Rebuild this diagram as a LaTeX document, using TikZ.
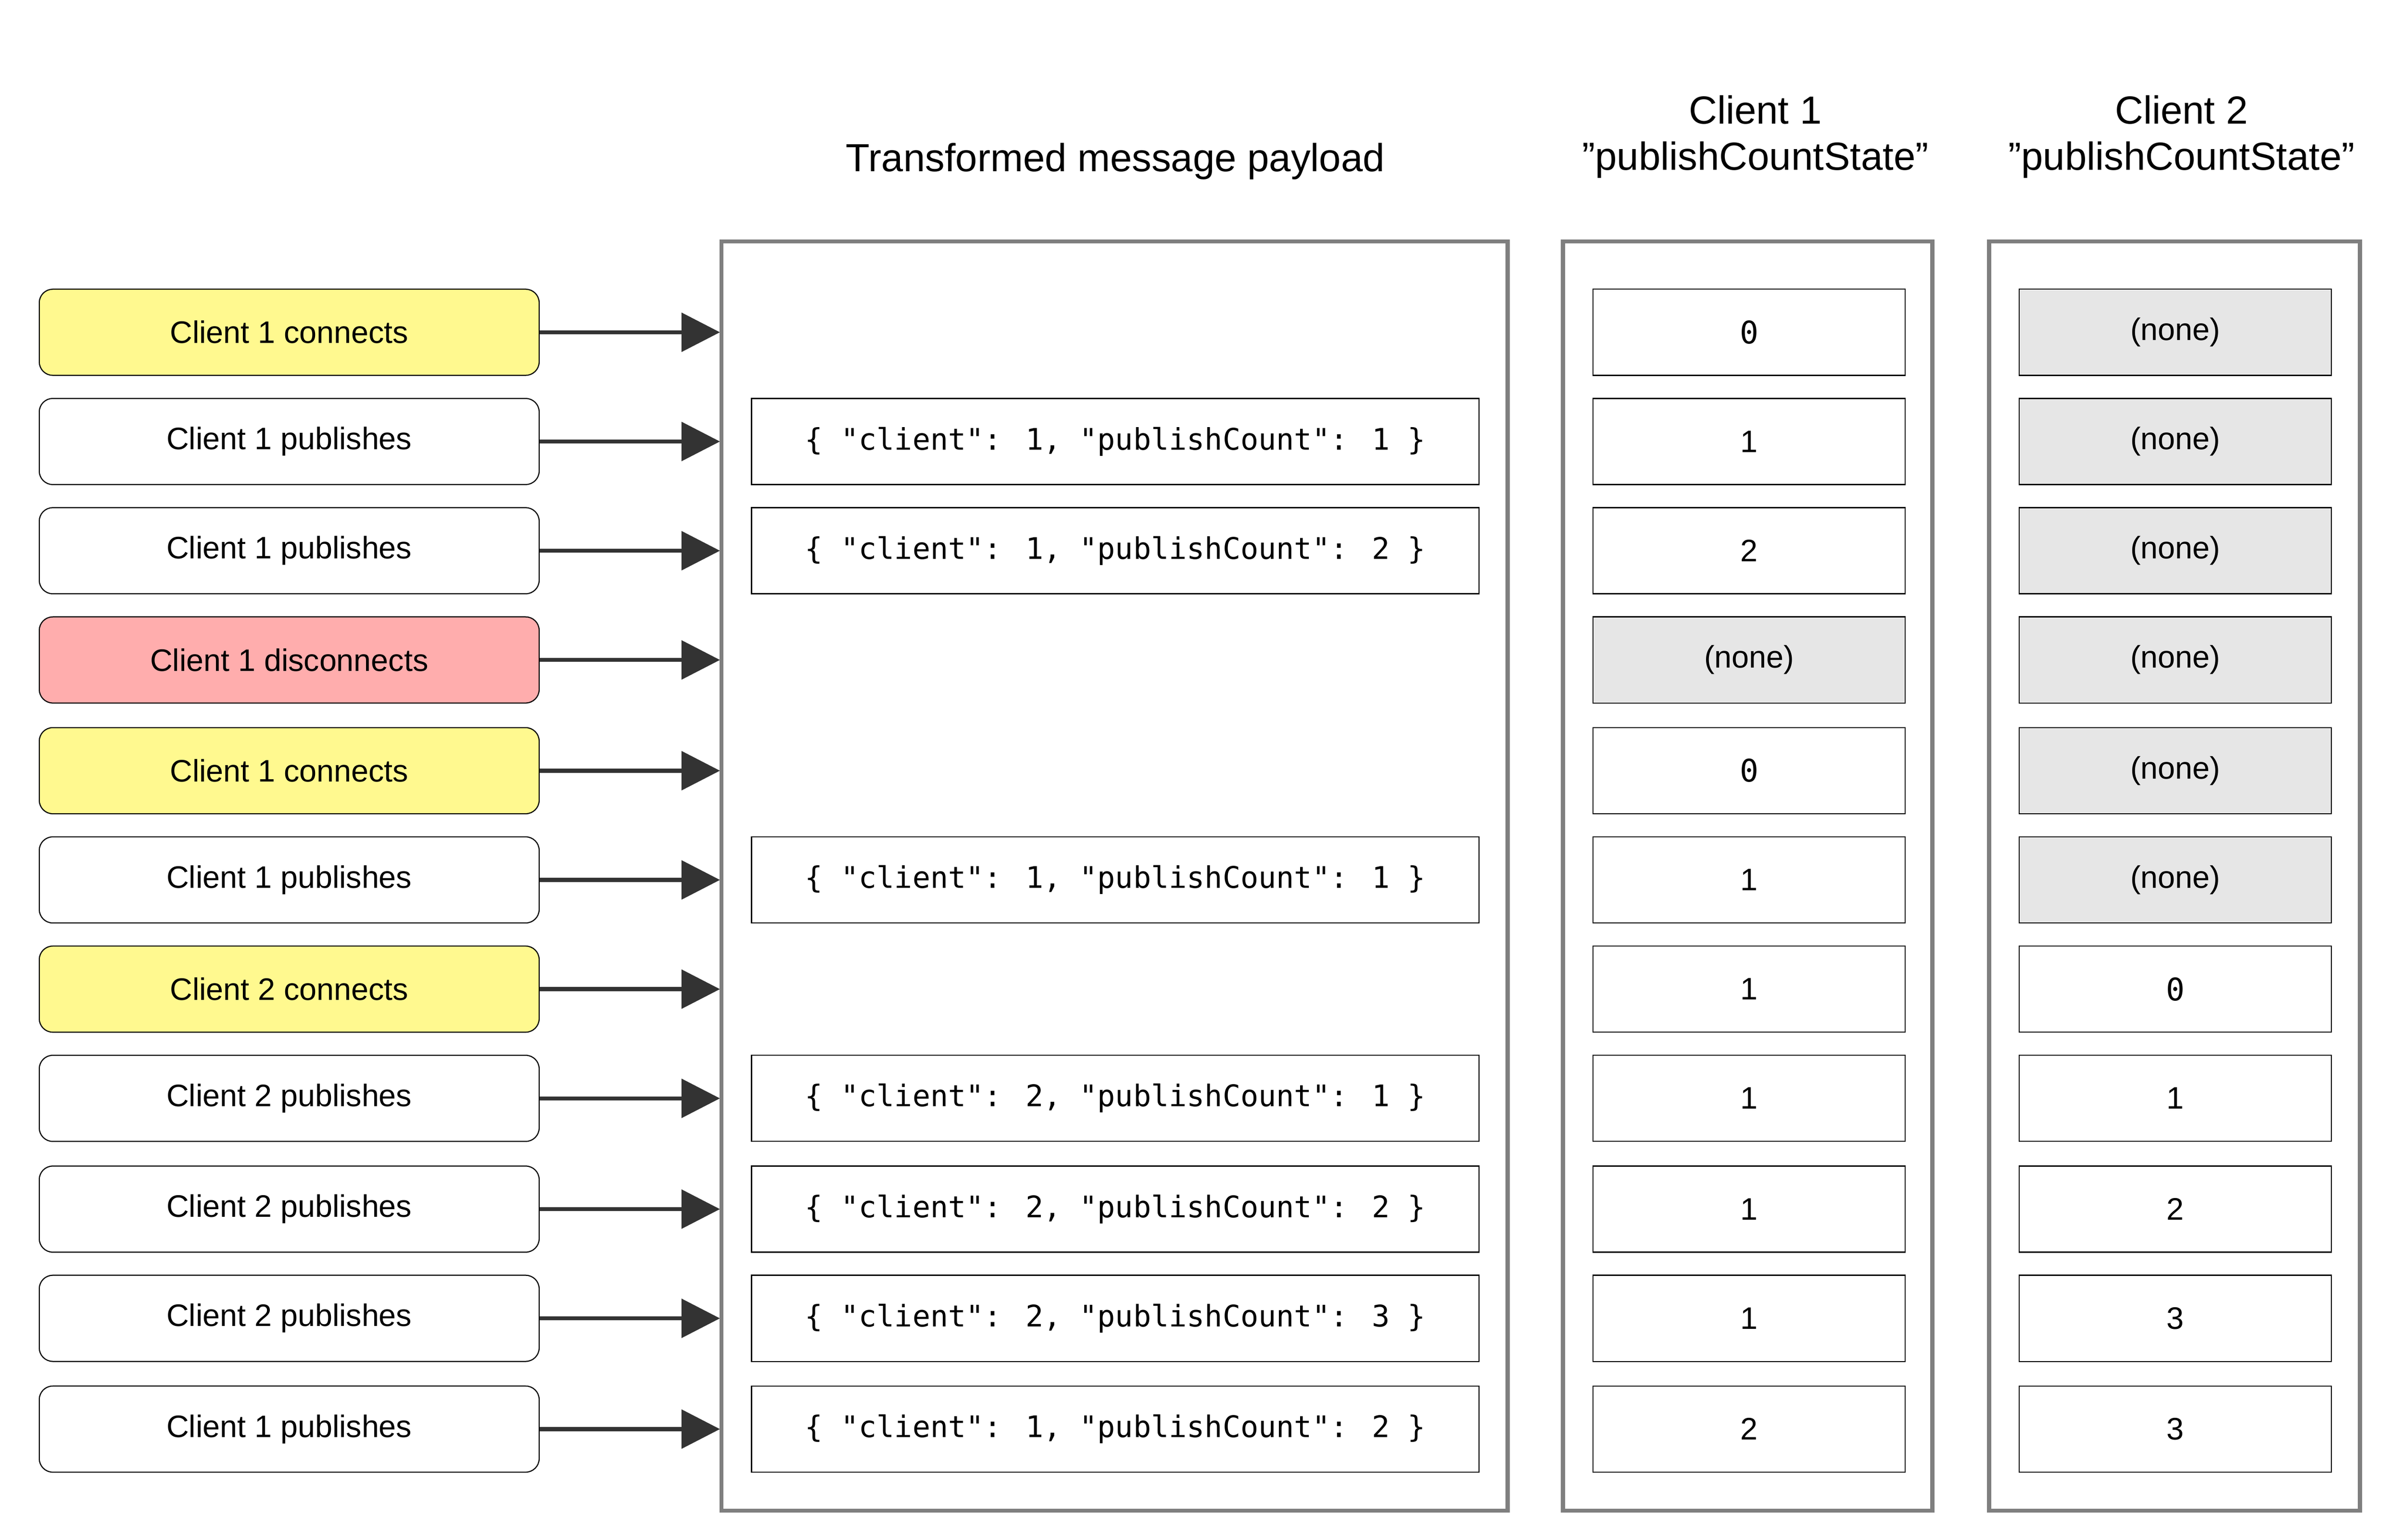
\documentclass[tikz,border=0pt]{standalone}
\usepackage{fontspec}
\setmainfont{Liberation Sans}
\newfontfamily\codefont{DejaVu Sans Mono}
\usetikzlibrary{positioning,arrows.meta}
\definecolor{evyellow}{HTML}{FFF98F}
\definecolor{evred}{HTML}{FFADAD}
\definecolor{nonegray}{HTML}{E6E6E6}
\definecolor{framegray}{HTML}{7F7F7F}
\definecolor{arrowgray}{HTML}{333333}
\begin{document}
\begin{tikzpicture}[x=0.02cm,y=-0.02cm,
  % left event boxes
  event/.style = {draw, rounded corners=5pt, minimum width=6.5cm, minimum height=1.12cm,
              font=\fontsize{11.5}{13}\selectfont, inner sep=0},
  % payload and state boxes
  pay/.style = {draw, minimum width=9.46cm, minimum height=1.12cm,
              font=\codefont\fontsize{11}{13}\selectfont, inner sep=0},
  state/.style = {draw, minimum width=4.06cm, minimum height=1.12cm,
              font=\fontsize{11.5}{13}\selectfont, inner sep=0},
  none/.style = {state, fill=nonegray},
  frame/.style = {draw=framegray, line width=1.5pt},
  title/.style = {font=\fontsize{14.5}{17}\selectfont, align=center},
  link/.style = {-{Triangle[length=0.5cm,width=0.5cm]}, draw=arrowgray, line width=1.5pt}]

\useasboundingbox (0,0) rectangle (1562,1001);

% titles
\node[title] (tpay) at (725,105) {Transformed message payload};
\node[title] (tca) at (1141,89) {Client 1\\"publishCountState"};
\node[title] (tcb) at (1418,89) {Client 2\\"publishCountState"};

% frames
\draw[frame] (469,157) rectangle (980,982);
\draw[frame] (1016,157) rectangle (1256,982);
\draw[frame] (1293,157) rectangle (1534,982);

% rows: y / event / colour / payload / client 1 / client 2
\foreach \i/\y/\ev/\col/\pl/\sa/\sb in {%
  1/216/Client 1 connects/evyellow/{}/0/-,
  2/287/Client 1 publishes/white/{1, "publishCount": 1}/1/-,
  3/358/Client 1 publishes/white/{1, "publishCount": 2}/2/-,
  4/429/Client 1 disconnects/evred/{}/-/-,
  5/501/Client 1 connects/evyellow/{}/0/-,
  6/572/Client 1 publishes/white/{1, "publishCount": 1}/1/-,
  7/643/Client 2 connects/evyellow/{}/1/0,
  8/714/Client 2 publishes/white/{2, "publishCount": 1}/1/1,
  9/786/Client 2 publishes/white/{2, "publishCount": 2}/1/2,
  10/857/Client 2 publishes/white/{2, "publishCount": 3}/1/3,
  11/929/Client 1 publishes/white/{1, "publishCount": 2}/2/3}{
  \node[event, fill=\col] (ev\i) at (188,\y) {\ev};
  \coordinate (in\i) at (468,\y);
  \draw[link] (ev\i.east) -- (in\i);
  \ifx\pl\empty\else
    \node[pay] (pay\i) at (725,\y) {\{ "client": \pl\ \}};
  \fi
  \if\sa-\node[none] (ca\i) at (1137,\y) {(none)};
  \else\node[state] (ca\i) at (1137,\y) {\ifnum\sa=0 {\codefont 0}\else\sa\fi};\fi
  \if\sb-\node[none] (cb\i) at (1414,\y) {(none)};
  \else\node[state] (cb\i) at (1414,\y) {\ifnum\sb=0 {\codefont 0}\else\sb\fi};\fi
}
\end{tikzpicture}
\end{document}
